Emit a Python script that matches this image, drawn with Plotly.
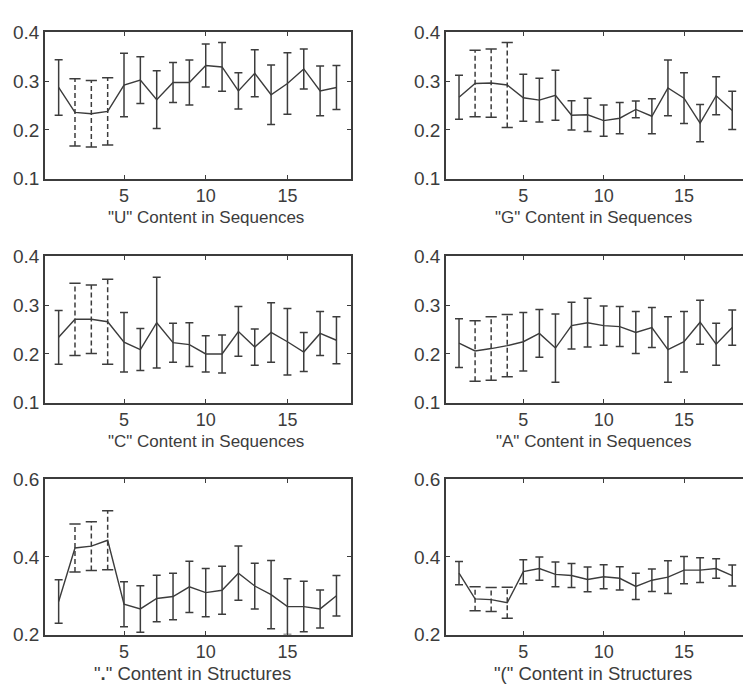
import plotly.graph_objects as go

positions = list(range(1, 19))
dashed_positions = [2, 3, 4]

u_mean = [0.287, 0.236, 0.233, 0.238, 0.292, 0.302, 0.262, 0.297, 0.297, 0.332, 0.329, 0.280, 0.316, 0.272, 0.295, 0.325, 0.280, 0.287]
u_err = [0.057, 0.069, 0.068, 0.069, 0.065, 0.048, 0.059, 0.041, 0.046, 0.044, 0.050, 0.037, 0.048, 0.061, 0.063, 0.041, 0.051, 0.045]

g_mean = [0.267, 0.295, 0.296, 0.292, 0.266, 0.261, 0.271, 0.230, 0.231, 0.219, 0.224, 0.242, 0.228, 0.286, 0.265, 0.214, 0.270, 0.240]
g_err = [0.045, 0.068, 0.070, 0.087, 0.048, 0.045, 0.051, 0.030, 0.034, 0.032, 0.032, 0.017, 0.036, 0.057, 0.052, 0.038, 0.039, 0.039]

c_mean = [0.234, 0.271, 0.271, 0.266, 0.224, 0.209, 0.264, 0.223, 0.219, 0.200, 0.200, 0.246, 0.214, 0.244, 0.225, 0.204, 0.242, 0.228]
c_err = [0.055, 0.074, 0.070, 0.087, 0.061, 0.043, 0.093, 0.040, 0.045, 0.037, 0.039, 0.051, 0.037, 0.061, 0.068, 0.040, 0.045, 0.048]

a_mean = [0.222, 0.206, 0.211, 0.217, 0.225, 0.242, 0.212, 0.258, 0.264, 0.258, 0.256, 0.244, 0.254, 0.209, 0.225, 0.265, 0.220, 0.254]
a_err = [0.050, 0.062, 0.065, 0.064, 0.060, 0.049, 0.070, 0.048, 0.050, 0.040, 0.041, 0.043, 0.041, 0.067, 0.062, 0.045, 0.043, 0.036]

dot_mean = [0.285, 0.423, 0.428, 0.443, 0.278, 0.266, 0.293, 0.298, 0.323, 0.308, 0.314, 0.358, 0.325, 0.303, 0.272, 0.272, 0.266, 0.300]
dot_err = [0.056, 0.062, 0.063, 0.076, 0.058, 0.060, 0.060, 0.060, 0.066, 0.062, 0.062, 0.070, 0.059, 0.088, 0.072, 0.065, 0.049, 0.052]

paren_mean = [0.358, 0.292, 0.290, 0.282, 0.362, 0.370, 0.355, 0.352, 0.342, 0.349, 0.345, 0.324, 0.340, 0.348, 0.366, 0.366, 0.370, 0.352]
paren_err = [0.030, 0.031, 0.031, 0.040, 0.031, 0.030, 0.032, 0.031, 0.032, 0.031, 0.030, 0.034, 0.029, 0.042, 0.035, 0.032, 0.025, 0.027]

x_tick_vals = [5, 10, 15]
seq_y_ticks = [0.1, 0.2, 0.3, 0.4]
str_y_ticks = [0.2, 0.4, 0.6]

titles = ['"U" Content in Sequences', '"G" Content in Sequences',
          '"C" Content in Sequences', '"A" Content in Sequences',
          '"<b>.</b>" Content in Structures', '"(" Content in Structures']

panels = [
    (u_mean, u_err, titles[0], seq_y_ticks, 0, 0),
    (g_mean, g_err, titles[1], seq_y_ticks, 0, 1),
    (c_mean, c_err, titles[2], seq_y_ticks, 1, 0),
    (a_mean, a_err, titles[3], seq_y_ticks, 1, 1),
    (dot_mean, dot_err, titles[4], str_y_ticks, 2, 0),
    (paren_mean, paren_err, titles[5], str_y_ticks, 2, 1),
]

W, H = 743, 694
INK = "#3c3c3c"
FONT = "Liberation Sans, Arial, sans-serif"

col_px = [(45, 351), (446, 743)]
col_xrange = [[0.165, 18.89], [0.19, 18.67]]
row_px = [(23, 174), (254, 405), (484, 644)]
title_center_px = [[206, 593], [206, 593], [192, 593]]
title_size = [17, 17, 18.5]

fig = go.Figure()
layout = dict(width=W, height=H, margin=dict(l=0, r=0, t=0, b=0),
              paper_bgcolor="white", plot_bgcolor="white", showlegend=False,
              font=dict(family=FONT, size=17, color=INK))
annotations = []

for k, (mean, err, title, yticks, row, col) in enumerate(panels):
    n = k + 1
    xa = "x" if n == 1 else f"x{n}"
    ya = "y" if n == 1 else f"y{n}"
    solid_x = [p for p in positions if p not in dashed_positions]
    solid_m = [mean[positions.index(p)] for p in solid_x]
    solid_e = [err[positions.index(p)] for p in solid_x]

    # connecting line
    fig.add_trace(go.Scatter(x=positions, y=mean, mode="lines",
                             line=dict(color=INK, width=1.4),
                             xaxis=xa, yaxis=ya, hoverinfo="skip"))
    # solid error bars
    fig.add_trace(go.Scatter(x=solid_x, y=solid_m, mode="markers",
                             marker=dict(size=1, color="rgba(0,0,0,0)"),
                             error_y=dict(type="data", array=solid_e, visible=True,
                                          color=INK, thickness=1.5, width=4),
                             xaxis=xa, yaxis=ya, hoverinfo="skip"))
    # dashed error bars
    dx, dy, cx, cy = [], [], [], []
    for p in dashed_positions:
        i = positions.index(p)
        lo, hi = mean[i] - err[i], mean[i] + err[i]
        dx += [p, p, None]
        dy += [lo, hi, None]
        cx += [p, p]
        cy += [lo, hi]
    fig.add_trace(go.Scatter(x=dx, y=dy, mode="lines",
                             line=dict(color=INK, width=1.5, dash="5px,3px"),
                             xaxis=xa, yaxis=ya, hoverinfo="skip"))
    fig.add_trace(go.Scatter(x=cx, y=cy, mode="markers",
                             marker=dict(symbol="line-ew", size=8,
                                         line=dict(color=INK, width=1.5)),
                             xaxis=xa, yaxis=ya, hoverinfo="skip"))

    x0, x1 = col_px[col]
    y0, y1 = row_px[row]
    xkey = "xaxis" if n == 1 else f"xaxis{n}"
    ykey = "yaxis" if n == 1 else f"yaxis{n}"
    layout[xkey] = dict(domain=[x0 / W, x1 / W], range=col_xrange[col], anchor=ya,
                        showgrid=False, zeroline=False, showline=True, linecolor=INK,
                        linewidth=1.5, mirror="ticks",
                        ticks="inside", ticklen=4, tickwidth=1.2, tickcolor=INK,
                        tickvals=x_tick_vals, ticktext=[str(v) for v in x_tick_vals],
                        tickfont=dict(size=18, color=INK, family=FONT),
                        ticklabelstandoff=0)
    layout[ykey] = dict(domain=[1 - y1 / H, 1 - y0 / H], range=[yticks[0], yticks[-1]],
                        anchor=xa, showgrid=False, zeroline=False, showline=True,
                        linecolor=INK, linewidth=1.5,
                        mirror="ticks" if col == 0 else False,
                        ticks="inside", ticklen=4, tickwidth=1.2, tickcolor=INK,
                        tickvals=yticks, ticktext=[f"{v:.1f}" for v in yticks],
                        tickfont=dict(size=19, color=INK, family=FONT),
                        ticklabelstandoff=0)
    annotations.append(dict(text=title, xref="paper", yref="paper",
                            x=title_center_px[row][col] / W, y=1 - (y1 + 40) / H,
                            xanchor="center", yanchor="middle", showarrow=False,
                            font=dict(size=title_size[row], color=INK, family=FONT)))

layout["annotations"] = annotations
fig.update_layout(**layout)
fig.write_html("out.html", config={"displayModeBar": False},
               post_script="document.body.style.margin='0px';document.body.style.overflow='hidden';")
